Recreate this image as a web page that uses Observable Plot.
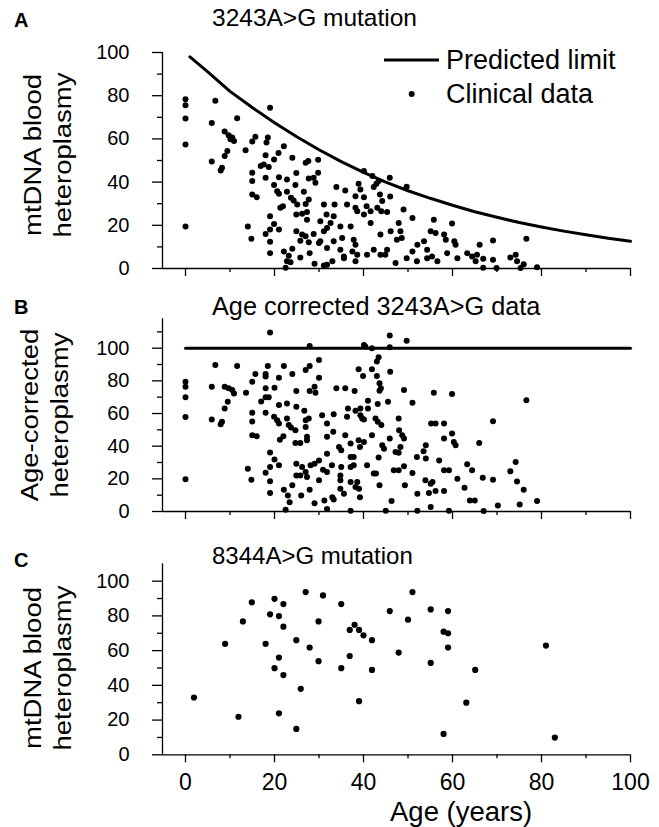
<!DOCTYPE html>
<html><head><meta charset="utf-8">
<script src="https://cdn.jsdelivr.net/npm/d3@7"></script>
<script src="https://cdn.jsdelivr.net/npm/@observablehq/plot@0.6"></script>
<style>
body{margin:0;background:#fff;}
#wrap{position:relative;width:659px;height:827px;font-family:"Liberation Sans",Arial,sans-serif;color:#000;overflow:hidden;background:#fff}
.abs{position:absolute;white-space:nowrap;line-height:1}
.panel{position:absolute;left:0}
.ylab{position:absolute;white-space:pre;text-align:center;transform:translate(-50%,-50%) rotate(-90deg) scaleX(1.17);font-size:23.5px;line-height:30px}
</style></head><body><div id="wrap"></div><script>
// ---- data ----
const limitAge = [1,5,10,15,20,25,30,35,40,45,50,55,60,65,70,75,80,85,90,95,100];
const limitHet = [98,91,82,74.5,67.5,61,55,49.5,44.5,40,36,32.5,29.3,26.3,23.7,21.3,19.2,17.3,15.6,14,12.6];
const correctedLimitAge = [0,100];
const correctedLimitHet = [100,100];

// Panel A: [age, heteroplasmy]
const clinicalA = [[0,78.4],[0,75.6],[0,69.5],[0,57.4],[0,19.4],[6.7,77.7],[19,74.4],[5.9,67.4],[11.6,69.6],[8.8,63.4],
[9.7,61.7],[10.5,60.6],[10.9,59],[10.1,59.8],[15.7,61],[15,58.8],[18.5,60.6],[18.2,58.3],[22.1,56.6],[13.5,54.7],
[9.4,54.4],[8.8,52.1],[20.9,53.5],[18,52.4],[24,51.3],[19.9,50.5],[5.9,49.5],[8.2,46.7],[7.9,45.4],[16.9,47.4],
[17.6,48.2],[18.7,47],[27.6,49.8],[27,49],[29.8,50.4],[15,44.3],[15,40.5],[18,42],[21,42.3],[24.9,44.2],
[22.8,41.2],[27.7,41.7],[28.8,42],[29.8,44.3],[29.2,39.7],[24.7,38.6],[19.9,38.6],[20.6,35.8],[21,34.6],[15,34.3],
[16,33],[22.8,35.5],[23.7,32.7],[24.3,31.5],[25.1,29.6],[26.6,35.5],[27.7,31.9],[27,29.9],[21.3,28.1],[21.9,28.8],
[24.9,25],[26.2,25.3],[27.3,26.2],[27.3,22.6],[19,24.2],[19.9,20.6],[14,19.4],[14.8,13.8],[18,16],[19,18],
[21,18],[24.9,17.2],[26.2,15.7],[27,14.9],[28.8,16],[30,11.8],[25.8,12.9],[27.7,12.2],[19,12.4],[19,7.1],
[22.1,7.9],[23.2,5.9],[24,9.1],[25.8,5.1],[27.9,7.1],[22.8,3.3],[23.6,2.9],[22.5,0.3],[29,2.2],[31.1,1.4],[31.8,1.7],
[40.1,45.1],[42,42.8],[45.9,42],[49.7,37.8],[33.9,37.7],[35.9,36.1],[38.9,39.2],[39.3,36.6],[42.3,37.7],[42.9,39.2],
[43.4,40.5],[38.2,33.5],[40.1,33],[43.7,34.3],[46,33.3],[44.2,31.2],[31.1,29.6],[33.5,29.6],[31.7,25],[33.3,24.2],
[30.3,21.9],[36.3,29.6],[38.2,28.1],[38.6,26.5],[40.7,28.8],[40.1,25],[41.6,26.5],[43.1,28.1],[44,26.5],[45.3,26.2],
[49,27.3],[51,23.4],[55.8,22.6],[59.9,20.8],[31.1,17.2],[31.8,18.8],[32.6,21.1],[34.8,19.5],[37.1,19.5],[35.2,14.1],
[37.8,13.3],[38.2,11],[41.6,21.1],[43.8,15.7],[46.1,17.2],[47.9,21.1],[48.3,17.2],[47.5,13.3],[48.6,14.1],[30.3,12.6],
[31.8,9.5],[33.3,12.6],[34.8,8.7],[35.6,4.8],[37.5,7.9],[38.6,6.4],[40.8,6.4],[42.3,8.7],[43.8,6.4],[45.3,8.7],
[51,7.9],[52.1,11],[53.6,12.6],[54.3,8.7],[55.1,17.2],[56.2,16.4],[58.1,15.7],[58.5,13.3],[60.4,12.6],[60.7,11],
[49.7,4.8],[52,3.3],[54.3,4.8],[55.4,5.6],[56.6,3.3],[58.8,7.1],[61.1,4.8],[63.3,7.1],[64.4,5.6],[65.2,3.3],
[33,3.3],[35.6,5.6],[38.2,3.3],[44.9,6.4],[47.2,2.5],[66.1,11],[65.5,6.4],
[69.1,13],[76.6,13.8],[66.9,4.5],[69.1,4],[73,5.1],[74.2,6.4],[74.5,3.3],[76,2],[79,0.6],[66.9,0.3],[69.9,0.2],[75.3,0.2]];

// Panel B: [age, age-corrected heteroplasmy]
const clinicalB = [[0,79.5],[0,76.4],[0,69.9],[0,57.8],[0,19.7],[19,109.6],[27.9,101.4],[6.7,89.7],[11.6,89.1],[18.5,89.1],
[22.1,89.1],[24,84.2],[15.7,84.2],[18,84.2],[18,82.6],[21,81.9],[15,79.5],[27,86.7],[27.9,89.1],[30,92.8],
[30,81.9],[5.9,76.4],[8.8,76.4],[9.7,75.4],[10.5,74.4],[10.9,72.3],[13.6,72.7],[18,75.4],[20,75.8],[24.9,73.8],
[27.9,73.8],[29,76.4],[29.2,72.7],[18,69.9],[18.7,69.9],[17,67.4],[9.5,67.2],[8.8,63.1],[15,60.4],[18,60.4],
[21,65.2],[22.8,66.2],[24.9,64.1],[26.7,61.7],[5.9,56.3],[8.2,54.9],[7.9,53.5],[15,55.1],[15,46.7],[16,46.1],
[19.9,58],[20.6,55.9],[21,53.9],[22.8,57],[23.2,52.9],[23.7,51.4],[24.7,49.8],[27,55.9],[27.7,57],[27,51.8],
[30.7,59],[31.8,53.9],[21.2,44],[22,46.1],[24.7,42],[25.8,42],[27.3,45.7],[27.3,43.6],[31.8,45.7],[19,36.1],
[20,31.8],[21,28.3],[14,26.2],[14.8,19.5],[18,23.8],[19,27.2],[24.9,29.3],[26.2,27.2],[27,24.2],[28.1,28.3],
[29,29.3],[24.9,22.1],[25.8,22.1],[27.3,21.1],[30,31.3],[30.9,25.6],[30,19.1],[31.8,35.4],[19,18.6],[19,11.3],
[22.1,13.3],[24,16],[23,9.8],[26,9.8],[27.9,13.3],[23.4,5.7],[29,5.1],[22.5,1],[31.8,1.6],[31.2,6.8],
[45.9,107.8],[49.7,104.5],[40.1,102],[40.4,101],[41.9,100],[45.9,100.6],[43.4,94.4],[43,91.8],[41.9,87.1],[38.9,87.1],
[39.9,83],[43,83],[46,85.6],[43.6,78.5],[43.6,74],[43.9,75.4],[33.9,75.4],[35.9,75.4],[38,73.8],[49.1,74.4],
[55.8,72.7],[59.9,71.9],[41,67.8],[45.5,67.2],[43.2,65.8],[51,66.6],[36.5,63.1],[38.2,61.7],[39.3,63.1],[41,63.1],
[36.3,58],[39.3,59],[40.1,56.3],[39.7,57],[42.7,57],[43.2,54.9],[44,52.9],[47.9,57],[33.3,59.6],[33.2,48.8],
[35.9,46.7],[34.5,39.5],[38.9,43.6],[40.1,42.6],[39.2,39.5],[41.9,46.7],[37.1,41.6],[35,37.5],[48,49.8],[48.7,46.7],
[49.1,44.7],[45.9,44.7],[44.2,40.6],[44.6,38.5],[48.3,39.5],[47.2,36.5],[47.9,35.9],[55.2,53.9],[56.2,53.9],[58.1,53.9],
[58.1,44.7],[59.9,47.7],[60.3,42.6],[60.7,40.6],[66,42],[54,40.6],[53.5,36.9],[52,33.4],[54,32.4],[37.1,33.4],
[37.8,33.4],[37.1,27.2],[37.8,28.3],[40.8,28.3],[43.4,33],[42.3,23.2],[42.8,23.2],[32.9,28.3],[31.8,24.2],[35,27.2],
[34.8,22.1],[46.8,25.2],[47.9,25.2],[49.1,27.7],[51,23.6],[57,31.3],[58.1,25.2],[59.2,25.2],[61.1,20.1],[63.3,28.9],
[64.4,25.2],[62.7,14.5],[63.9,6.8],[65,6.8],[53.9,19.1],[55.1,17],[55.5,18],[56.2,12.5],[54.7,11.3],[52.1,10.9],
[58.1,12.5],[55.1,2.7],[49.3,16],[46.3,6.4],[43.6,16],[34.8,19.1],[37.1,18],[38.6,18],[39,13.9],[38.2,15],
[34.8,13.9],[35.6,10.9],[33,8.8],[33.3,7.4],[39.2,8.8],[37.1,0.5],[45,0.5],[52.1,0.5],[59.2,0.5],
[76.6,68.2],[69.1,55.3],[74.2,30.3],[73,24.6],[74.5,18.4],[76,13.3],[66.8,20.7],[69.1,19.5],[70.2,3.7],[75.1,4.3],[79,6.4],[67,0.3]];

// Panel C: [age, heteroplasmy]
const clinicalC = [[1.9,33],[8.9,63.9],[11.9,21.9],[12.9,76.8],[14.9,87.8],[18,63.9],[19,80.9],[20,89.8],[21,79.9],[22,86.8],
[22,73.8],[21,56],[20,49.9],[22,45.9],[21,23.9],[24.9,66],[25.9,38],[24.9,14.9],[27,93.7],[27.9,61.8],
[29.9,76.8],[29.9,53.9],[30.9,91.8],[35,86.8],[35,49.9],[36.9,56.9],[36.9,71.9],[38,74.9],[39,71.9],[40,68.8],
[39,30.9],[41.9,66],[41.9,48.9],[45.9,82.8],[47.9,58.9],[50,77.8],[51,93.7],[55.1,83.7],[59,82.8],[55.1,52.9],
[58,70.9],[59,70],[59,61.8],[65.1,48.9],[63.1,30],[58,12],[81,62.9],[83,9.9]];

const xDomain = [-5.17, 100];
const xMajor = [0,20,40,60,80,100];
const xMinor = [10,30,50,70,90];
const yMajorA = [0,20,40,60,80,100], yMinorA = [10,30,50,70,90];
const yMajorB = [0,20,40,60,80,100], yMinorB = [10,30,50,70,90,110];
const yMajorC = [0,20,40,60,80,100], yMinorC = [10,30,50,70,90];

const font = '"Liberation Sans", Arial, sans-serif';
const toObjs = arr => arr.map(([age, het]) => ({age, het: Math.max(0, het)}));
const blank = () => "";

function panel({height, marginTop, marginBottom, yDomain, yMajor, yMinor, points, line, xLabels, r}) {
  const marks = [
    Plot.ruleX([xDomain[0]], {stroke: "#000", strokeWidth: 1.3}),
    Plot.ruleY([yDomain[0]], {stroke: "#000", strokeWidth: 1.3}),
    Plot.axisY(yMajor, {label: null, tickSize: 10, tickPadding: 23, fontSize: 20, strokeWidth: 1.3}),
    Plot.axisY(yMinor, {label: null, tickSize: 5, tickFormat: blank, strokeWidth: 1.3}),
    Plot.axisX(xMajor, {label: null, tickSize: 8, tickPadding: 11, fontSize: 23, strokeWidth: 1.3, tickFormat: xLabels ? d => d : blank}),
    Plot.axisX(xMinor, {label: null, tickSize: 4, tickFormat: blank, strokeWidth: 1.3}),
    Plot.dot(toObjs(points), {x: "age", y: "het", r, fill: "#000", stroke: null})
  ];
  if (line) marks.push(Plot.line(line, {x: "age", y: "het", stroke: "#000", strokeWidth: 3}));
  return Plot.plot({
    width: 659, height, marginLeft: 162, marginRight: 29, marginTop, marginBottom,
    x: {domain: xDomain, label: null}, y: {domain: yDomain, label: null},
    style: {fontFamily: font, background: "transparent", overflow: "visible", color: "#000"},
    marks
  });
}

const limitA = limitAge.map((age, i) => ({age, het: limitHet[i]}));
const limitB = correctedLimitAge.map((age, i) => ({age, het: correctedLimitHet[i]}));

const wrap = document.getElementById("wrap");
function place(el, top) { const d = document.createElement("div"); d.className = "panel"; d.style.top = top + "px"; d.appendChild(el); wrap.appendChild(d); }

place(panel({height: 290, marginTop: 52, marginBottom: 22, yDomain: [0,100], yMajor: yMajorA, yMinor: yMinorA, points: clinicalA, line: limitA, xLabels: false, r: 3}), 0);
place(panel({height: 250, marginTop: 28.3, marginBottom: 29, yDomain: [0,118], yMajor: yMajorB, yMinor: yMinorB, points: clinicalB, line: limitB, xLabels: false, r: 3}), 290);
place(panel({height: 287, marginTop: 23.3, marginBottom: 72.7, yDomain: [0,110], yMajor: yMajorC, yMinor: yMinorC, points: clinicalC, line: null, xLabels: true, r: 3.1}), 540);

function txt(s, left, top, size, extra = "") {
  const d = document.createElement("div"); d.className = "abs";
  d.style.cssText += `left:${left}px;top:${top}px;font-size:${size}px;${extra}`;
  d.textContent = s; wrap.appendChild(d); return d;
}
// panel letters and titles
txt("A", 14, 9.5, 20, "font-weight:bold");
txt("B", 14, 296.5, 20, "font-weight:bold");
txt("C", 14, 550, 20, "font-weight:bold");
txt("3243A>G mutation", 212, 6, 24.5);
txt("Age corrected 3243A>G data", 212, 293.5, 25.3);
txt("8344A>G mutation", 212, 544, 24);
txt("Age (years)", 390, 798, 27.5);
// legend
const lg = document.createElementNS("http://www.w3.org/2000/svg", "svg");
lg.setAttribute("width", 70); lg.setAttribute("height", 60);
lg.style.cssText = "position:absolute;left:374px;top:40px";
lg.innerHTML = '<line x1="10" x2="65" y1="20" y2="20" stroke="#000" stroke-width="3"/><circle cx="37.7" cy="54" r="3" fill="#000"/>';
wrap.appendChild(lg);
txt("Predicted limit", 446, 46.5, 27);
txt("Clinical data", 446, 80.5, 27);
// y titles
function ylab(s, cx, cy) {
  const d = document.createElement("div"); d.className = "ylab";
  d.style.left = cx + "px"; d.style.top = cy + "px"; d.textContent = s; wrap.appendChild(d);
}
ylab("mtDNA blood\nheteroplasmy", 48, 155);
ylab("Age-corrected\nheteroplasmy", 45, 415);
ylab("mtDNA blood\nheteroplasmy", 48, 668);
</script></body></html>
